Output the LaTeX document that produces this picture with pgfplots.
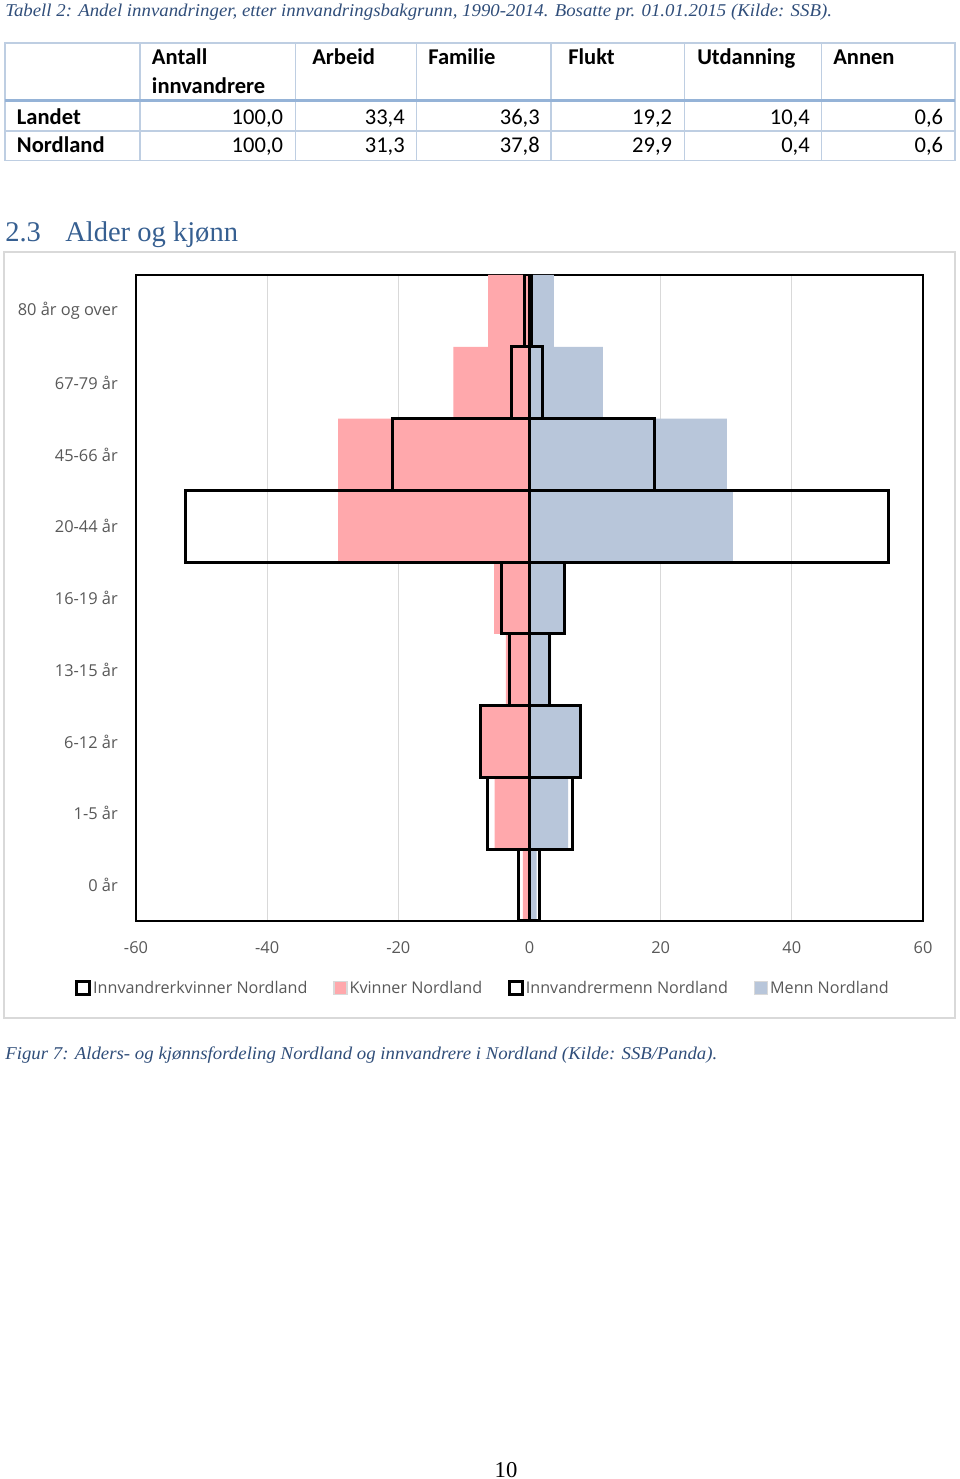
\documentclass[border=0pt]{standalone}
\usepackage{fontspec}
\usepackage{graphicx}
\usepackage{pgfplots}
\pgfplotsset{compat=1.18}
\setmainfont{Liberation Serif}
\newfontfamily\tablefont{Carlito}
\newfontfamily\chartfont{Open Sans}
\definecolor{capblue}{RGB}{48,78,122}
\definecolor{headblue}{RGB}{54,95,145}
\definecolor{gridl}{RGB}{190,206,226}
\definecolor{gridthick}{RGB}{149,179,215}
\definecolor{lblgray}{RGB}{89,89,89}
\definecolor{framegray}{RGB}{217,217,217}
\definecolor{pinkbar}{RGB}{255,168,172}
\definecolor{bluebar}{RGB}{184,198,218}
\definecolor{zerogray}{RGB}{134,134,134}
\pgfplotsset{sq legend/.style={legend image code/.code={\draw[##1] (0pt,-4.875pt) rectangle (9.75pt,4.875pt);}}}
\begin{document}
\begin{tikzpicture}[x=0.75pt,y=0.75pt]
\path[use as bounding box, fill=white] (0,0) rectangle (960,1479);
% table caption
\node[anchor=base west, inner sep=0pt, text=capblue, font=\fontsize{13.5}{16}\selectfont\itshape] at (5,1462) {\resizebox{620pt}{\height}{Tabell 2: Andel innvandringer, etter innvandringsbakgrunn, 1990-2014. Bosatte pr. 01.01.2015 (Kilde: SSB).}};
% table grid
\draw[gridl, line width=1.1pt] (5,1436) rectangle (955,1318.5);
\foreach \xx in {140,295.3,416.7,551,684.5,821.5} {\draw[gridl, line width=1.1pt] (\xx,1436) -- (\xx,1318.5);}
\draw[gridl, line width=1.1pt] (5,1348) -- (955,1348);
\draw[gridthick, line width=2.25pt] (5,1378) -- (955,1378);
% table header
\begin{scope}[every node/.style={anchor=base west, inner sep=0pt, font=\tablefont\bfseries\fontsize{16.9}{20}\selectfont}]
\node at (151.7,1414) {Antall};
\node at (151.7,1385.7) {innvandrere};
\node at (312,1414) {Arbeid};
\node at (428,1414) {Familie};
\node at (568,1414) {Flukt};
\node at (697,1414) {Utdanning};
\node at (833,1414) {Annen};
\node at (16.7,1354.7) {Landet};
\node at (16.7,1326.3) {Nordland};
\end{scope}
\begin{scope}[every node/.style={anchor=base east, inner sep=0pt, font=\tablefont\fontsize{16.9}{20}\selectfont}]
\node at (283.3,1354.7) {100,0};
\node at (405,1354.7) {33,4};
\node at (540,1354.7) {36,3};
\node at (672.3,1354.7) {19,2};
\node at (810,1354.7) {10,4};
\node at (943.3,1354.7) {0,6};
\node at (283.3,1326.3) {100,0};
\node at (405,1326.3) {31,3};
\node at (540,1326.3) {37,8};
\node at (672.3,1326.3) {29,9};
\node at (810,1326.3) {0,4};
\node at (943.3,1326.3) {0,6};
\end{scope}
% heading
\node[anchor=base west, inner sep=0pt, text=headblue, font=\fontsize{21.4}{25}\selectfont] at (5,1237.3) {2.3};
\node[anchor=base west, inner sep=0pt, text=headblue, font=\fontsize{21.4}{25}\selectfont] at (65,1237.3) {Alder og kjønn};
% chart frame
\draw[framegray, line width=1.1pt] (4,461) rectangle (955,1227);
\coordinate (plotSW) at (136,558);
\begin{axis}[
  at={(plotSW)}, anchor=south west,
  scale only axis, width=590.25pt, height=484.5pt,
  xmin=-60, xmax=60, ymin=-0.5, ymax=8.5,
  xtick={-60,-40,-20,0,20,40,60},
  xticklabels={-60,-40,-20,0,20,40,60},
  ytick={0,1,2,3,4,5,6,7,8},
  yticklabels={0 år,1-5 år,6-12 år,13-15 år,16-19 år,20-44 år,45-66 år,67-79 år,80 år og over},
  major tick length=0pt,
  xmajorgrids, grid style={framegray, line width=0.75pt},
  axis line style={black, line width=1.1pt},
  tick label style={font=\chartfont\fontsize{12.3}{15}\selectfont, text=lblgray, inner sep=0pt},
  xticklabel style={yshift=-15pt},
  yticklabel style={xshift=-13.5pt},
  xbar, bar width=1, bar shift=0pt,
  legend columns=4,
  legend style={at={(axis description cs:-0.0825,-0.1037)}, anchor=west, draw=none, fill=none,
    font=\chartfont\fontsize{12.1}{15}\selectfont, text=lblgray,
    /tikz/every even column/.append style={column sep=18pt},
    nodes={inner xsep=1.4pt, inner ysep=0pt}},
]
\addlegendimage{sq legend, draw=black, line width=2.25pt, fill=white}
\addlegendentry{Innvandrerkvinner Nordland}
\addlegendimage{sq legend, draw=framegray, line width=1.1pt, fill=pinkbar}
\addlegendentry{Kvinner Nordland}
\addlegendimage{sq legend, draw=black, line width=2.25pt, fill=white}
\addlegendentry{Innvandrermenn Nordland}
\addlegendimage{sq legend, draw=framegray, line width=1.1pt, fill=bluebar}
\addlegendentry{Menn Nordland}
% Kvinner Nordland
\addplot[forget plot, xbar, bar shift=0pt, fill=pinkbar, draw=none] coordinates {
 (-1.0,0) (-5.3,1) (-7.5,2) (-3.6,3) (-5.4,4) (-29.2,5) (-29.2,6) (-11.6,7) (-6.3,8)};
% Menn Nordland
\addplot[forget plot, xbar, bar shift=0pt, fill=bluebar, draw=none] coordinates {
 (1.1,0) (5.9,1) (8.0,2) (3.3,3) (5.3,4) (31.0,5) (30.1,6) (11.2,7) (3.7,8)};
\draw[zerogray, line width=1pt] (axis cs:0,-0.5) -- (axis cs:0,8.5);
% Innvandrerkvinner Nordland
\addplot[forget plot, xbar, bar shift=0pt, fill=none, draw=black, line width=2.25pt] coordinates {
 (-1.7,0) (-6.4,1) (-7.5,2) (-3.1,3) (-4.2,4) (-52.4,5) (-20.9,6) (-2.7,7) (-0.8,8)};
% Innvandrermenn Nordland
\addplot[forget plot, xbar, bar shift=0pt, fill=none, draw=black, line width=2.25pt] coordinates {
 (1.5,0) (6.6,1) (7.8,2) (3.0,3) (5.4,4) (54.8,5) (19.0,6) (2.0,7) (0.3,8)};
\end{axis}
% figure caption
\node[anchor=base west, inner sep=0pt, text=capblue, font=\fontsize{13.5}{16}\selectfont\itshape] at (5,419.7) {\resizebox{534pt}{\height}{Figur 7: Alders- og kjønnsfordeling Nordland og innvandrere i Nordland (Kilde: SSB/Panda).}};
% page number
\node[anchor=base, inner sep=0pt, font=\fontsize{17}{20}\selectfont] at (506,2) {10};
\end{tikzpicture}
\end{document}
